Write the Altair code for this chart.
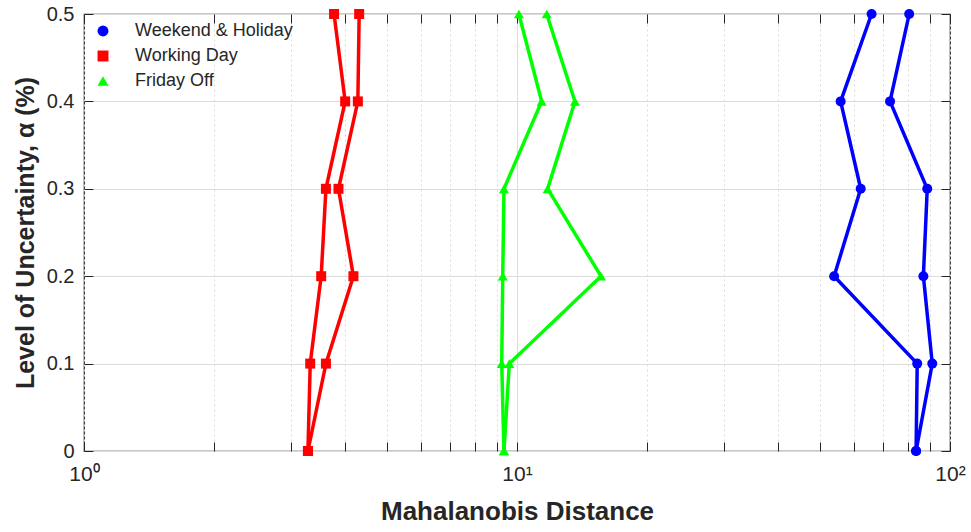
import altair as alt
import pandas as pd

# Level of uncertainty (alpha) and Mahalanobis distances for each day type,
# two curves per day type.
alpha = [0.0, 0.1, 0.2, 0.3, 0.4, 0.5]

weekend_a = [83.5, 84.0, 54.0, 62.2, 55.9, 65.9]
weekend_b = [83.5, 91.0, 86.8, 88.6, 72.7, 80.5]
working_a = [3.29, 3.33, 3.53, 3.62, 4.01, 3.78]
working_b = [3.29, 3.62, 4.19, 3.87, 4.29, 4.32]
friday_a = [9.33, 9.22, 9.27, 9.33, 11.40, 10.1]
friday_b = [9.33, 9.60, 15.63, 11.77, 13.61, 11.71]

groups = ["Weekend & Holiday", "Working Day", "Friday Off"]
colors = ["#0000ff", "#ff0000", "#00ff00"]
shapes = ["circle", "square", "triangle-up"]

x_ticks = [1, 2, 3, 4, 5, 6, 7, 8, 9, 10, 20, 30, 40, 50, 60, 70, 80, 90, 100]
y_ticks = [0, 0.1, 0.2, 0.3, 0.4, 0.5]

rows = []
for name, curves in zip(groups, [(weekend_a, weekend_b), (working_a, working_b), (friday_a, friday_b)]):
    for cid, vals in zip(["a", "b"], curves):
        for a, v in zip(alpha, vals):
            rows.append({"group": name, "curve": name + cid, "alpha": a, "dist": v})
df = pd.DataFrame(rows)

FONT = "Liberation Sans"
FRAME = "#262626"
TICK = 9

x_scale = alt.Scale(type="log", domain=[1, 100])
y_scale = alt.Scale(domain=[0, 0.5])
color_scale = alt.Scale(domain=groups, range=colors)
shape_scale = alt.Scale(domain=groups, range=shapes)

x_bottom = alt.Axis(
    orient="bottom",
    values=x_ticks,
    labelExpr="datum.value == 1 ? '10⁰' : datum.value == 10 ? '10¹' : datum.value == 100 ? '10²' : ''",
    title="Mahalanobis Distance",
    titleFontSize=26, titleFontWeight="bold", titleColor=FRAME, titlePadding=14,
    labelFontSize=21, labelColor=FRAME, labelPadding=12, labelFont=FONT, titleFont=FONT,
    domain=False, ticks=True, tickSize=TICK, offset=-TICK, tickColor=FRAME,
    grid=True, gridColor="#dcdcdc",
    gridDash={"condition": {"test": "datum.value === 10", "value": []}, "value": [2, 3]},
    labelFlush=False,
)
y_left = alt.Axis(
    orient="left",
    values=y_ticks,
    labelExpr="datum.value == 0 ? '0' : format(datum.value, '.1f')",
    title="Level of Uncertainty, α (%)",
    titleFontSize=25, titleFontWeight="bold", titleColor=FRAME, titlePadding=8,
    labelFontSize=20, labelColor=FRAME, labelPadding=10, labelFont=FONT, titleFont=FONT,
    domain=False, ticks=True, tickSize=TICK, offset=-TICK, tickColor=FRAME,
    grid=True, gridColor="#dcdcdc",
)
# Mirrored tick marks along the top and right edges of the frame
x_top = alt.Axis(
    orient="top", values=x_ticks, labels=False, title=None, domain=False,
    ticks=True, tickSize=TICK, offset=-TICK, tickColor=FRAME, grid=False,
)
y_right = alt.Axis(
    orient="right", values=y_ticks, labels=False, title=None, domain=False,
    ticks=True, tickSize=TICK, offset=-TICK, tickColor=FRAME, grid=False,
)

legend = alt.Legend(
    title=None, orient="none", legendX=10, legendY=8, padding=0,
    labelFontSize=18, labelFont=FONT, labelColor=FRAME,
    symbolSize=120, rowPadding=7, labelOffset=23, symbolOffset=0,
)

base = alt.Chart(df)

# One line layer per day type, each in its own colour
line_layers = []
for i, (name, col) in enumerate(zip(groups, colors)):
    line_layers.append(
        base.transform_filter(alt.datum.group == name)
        .mark_line(strokeWidth=3.5, color=col)
        .encode(
            x=alt.X("dist:Q", scale=x_scale, axis=x_bottom if i == 0 else None),
            y=alt.Y("alpha:Q", scale=y_scale, axis=y_left if i == 0 else None),
            detail="curve:N",
            order="alpha:Q",
        )
    )

points = base.mark_point(filled=True, size=100, opacity=1).encode(
    x=alt.X("dist:Q", scale=x_scale, axis=x_top),
    y=alt.Y("alpha:Q", scale=y_scale, axis=y_right),
    color=alt.Color("group:N", scale=color_scale, legend=legend),
    shape=alt.Shape("group:N", scale=shape_scale, legend=legend),
)

chart = (
    alt.layer(*line_layers, points)
    .resolve_axis(x="independent", y="independent")
    .properties(
        width=866, height=437,
        autosize=alt.AutoSizeParams(type="none"),
        padding={"left": 84, "top": 14, "right": 21, "bottom": 81},
        background="white",
    )
    .configure_view(stroke=FRAME, strokeWidth=1.2)
)

chart.save("out.html", embed_options={"renderer": "svg", "actions": False})
